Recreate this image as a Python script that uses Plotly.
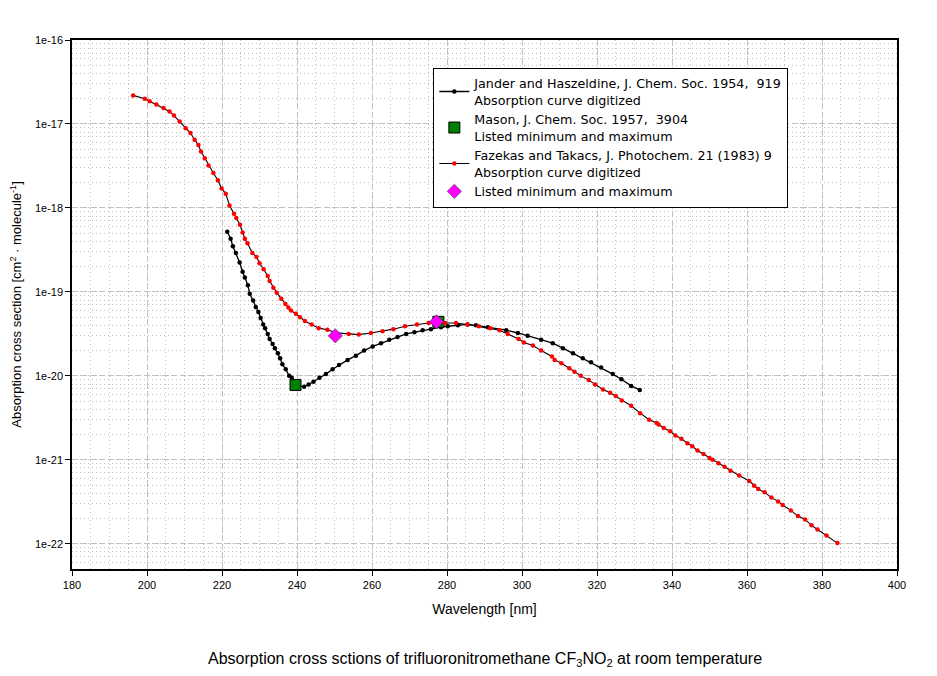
import plotly.graph_objects as go

jander_nm = [221.4, 222.3, 222.9, 223.7, 224.7, 225.5, 226.1, 226.9, 227.4, 228.3,
             229.0, 229.7, 230.3, 231.0, 231.5, 232.2, 232.7, 233.5, 234.1, 234.9,
             235.5, 236.1, 237.0, 237.9, 238.6, 239.6, 240.5, 241.9, 243.1, 244.4,
             246.0, 247.7, 249.5, 251.2, 253.5, 255.7, 257.9, 260.2, 262.4, 264.6,
             266.8, 269.1, 271.3, 273.5, 275.7, 278.4, 280.2, 282.9, 285.5, 287.7,
             290.9, 295.8, 298.9, 301.5, 305.1, 308.2, 310.9, 313.6, 316.2, 318.4,
             321.1, 324.2, 326.5, 329.1, 331.4]
jander_xs = [5.2e-19, 4.3e-19, 3.5e-19, 2.9e-19, 2.24e-19, 1.74e-19, 1.48e-19, 1.2e-19, 9.5e-20, 7.9e-20,
             6.6e-20, 5.75e-20, 4.9e-20, 4.1e-20, 3.7e-20, 3.16e-20, 2.75e-20, 2.4e-20, 2.14e-20, 1.86e-20,
             1.62e-20, 1.38e-20, 1.2e-20, 1.0e-20, 9.5e-21, 8.1e-21, 7.6e-21, 7.4e-21, 7.9e-21, 8.5e-21,
             9.5e-21, 1.05e-20, 1.2e-20, 1.35e-20, 1.55e-20, 1.74e-20, 2.0e-20, 2.24e-20, 2.45e-20, 2.7e-20,
             2.9e-20, 3.16e-20, 3.3e-20, 3.5e-20, 3.6e-20, 3.8e-20, 3.9e-20, 4.0e-20, 4.1e-20, 4.0e-20,
             3.8e-20, 3.5e-20, 3.24e-20, 3.0e-20, 2.7e-20, 2.45e-20, 2.14e-20, 1.86e-20, 1.62e-20, 1.45e-20,
             1.26e-20, 1.05e-20, 9.1e-21, 7.6e-21, 6.8e-21]

# Mason 1957, listed minimum and maximum
mason_nm = [239.6, 277.7]
mason_xs = [7.8e-21, 4.4e-20]

fazekas_nm = [196.3, 199.4, 200.7, 202.5, 204.4, 206.0, 207.2, 208.7, 210.3, 211.6,
              212.7, 213.7, 214.4, 215.4, 216.4, 217.7, 218.9, 219.9, 221.0, 222.0,
              223.2, 223.8, 224.8, 225.5, 226.1, 226.8, 228.1, 229.2, 230.0, 231.1,
              232.2, 232.7, 233.7, 234.6, 235.8, 236.9, 237.7, 238.4, 239.7, 240.8,
              242.1, 243.9, 245.8, 248.1, 250.5, 253.8, 256.5, 259.7, 262.8, 265.7,
              268.8, 272.0, 275.1, 279.5, 282.4, 285.4, 288.5, 291.5, 294.0, 296.2,
              299.1, 300.5, 302.9, 305.1, 308.0, 308.7, 310.5, 312.6, 314.0, 315.7,
              317.8, 319.5, 321.6, 323.5, 325.0, 326.6, 329.1, 331.5, 333.9, 335.9,
              336.4, 337.8, 339.5, 340.9, 342.5, 344.1, 345.4, 346.8, 348.4, 350.0,
              350.8, 352.4, 354.0, 355.6, 357.9, 360.6, 361.9, 363.0, 364.7, 366.5,
              368.3, 369.5, 371.7, 373.6, 375.5, 377.2, 378.8, 381.2, 384.1]
fazekas_xs = [2.19e-17, 2.0e-17, 1.86e-17, 1.7e-17, 1.55e-17, 1.41e-17, 1.26e-17, 1.07e-17, 8.9e-18, 7.8e-18,
              6.5e-18, 5.6e-18, 4.7e-18, 3.9e-18, 3.2e-18, 2.6e-18, 2.14e-18, 1.7e-18, 1.48e-18, 1.07e-18,
              8.5e-19, 7.6e-19, 6.3e-19, 5.1e-19, 4.3e-19, 3.8e-19, 2.9e-19, 2.6e-19, 2.19e-19, 1.86e-19,
              1.55e-19, 1.35e-19, 1.12e-19, 9.8e-20, 8.3e-20, 7.2e-20, 6.5e-20, 6.0e-20, 5.5e-20, 5.0e-20,
              4.5e-20, 4.1e-20, 3.7e-20, 3.55e-20, 3.25e-20, 3.16e-20, 3.1e-20, 3.24e-20, 3.4e-20, 3.6e-20,
              3.9e-20, 4.1e-20, 4.27e-20, 4.27e-20, 4.27e-20, 4.1e-20, 3.9e-20, 3.7e-20, 3.5e-20, 3.16e-20,
              2.75e-20, 2.5e-20, 2.3e-20, 2.0e-20, 1.7e-20, 1.55e-20, 1.41e-20, 1.23e-20, 1.12e-20, 1.0e-20,
              8.9e-21, 7.9e-21, 6.9e-21, 6.3e-21, 5.75e-21, 5.1e-21, 4.4e-21, 3.6e-21, 3.0e-21, 2.75e-21,
              2.63e-21, 2.4e-21, 2.19e-21, 1.95e-21, 1.78e-21, 1.58e-21, 1.45e-21, 1.29e-21, 1.17e-21, 1.05e-21,
              1.0e-21, 9.1e-22, 8.3e-22, 7.4e-22, 6.5e-22, 5.6e-22, 4.9e-22, 4.5e-22, 4.1e-22, 3.55e-22,
              3.2e-22, 2.9e-22, 2.5e-22, 2.14e-22, 1.95e-22, 1.66e-22, 1.48e-22, 1.26e-22, 1.02e-22]

# Fazekas and Takacs, listed minimum and maximum
faz_mm_nm = [250.2, 277.2]
faz_mm_xs = [3.0e-20, 4.4e-20]

x_ticks = list(range(180, 401, 20))
y_tickvals = [1e-22, 1e-21, 1e-20, 1e-19, 1e-18, 1e-17, 1e-16]
y_ticktext = ["1e-22", "1e-21", "1e-20", "1e-19", "1e-18", "1e-17", "1e-16"]

font = "Liberation Sans, Arial, sans-serif"
grid_col = "#c0c0c0"

fig = go.Figure()

fig.add_trace(go.Scatter(
    x=jander_nm, y=jander_xs, mode="lines+markers",
    name="Jander and Haszeldine, J. Chem. Soc. 1954,  919<br>Absorption curve digitized",
    line=dict(color="black", width=1.3),
    marker=dict(color="black", size=4.5)))

fig.add_trace(go.Scatter(
    x=mason_nm, y=mason_xs, mode="markers",
    name="Mason, J. Chem. Soc. 1957,  3904<br>Listed minimum and maximum",
    marker=dict(symbol="square", color="#008000", size=11, line=dict(color="black", width=1))))

fig.add_trace(go.Scatter(
    x=fazekas_nm, y=fazekas_xs, mode="lines+markers",
    name="Fazekas and Takacs, J. Photochem. 21 (1983) 9<br>Absorption curve digitized",
    line=dict(color="black", width=1.1),
    marker=dict(color="red", size=4.5)))

fig.add_trace(go.Scatter(
    x=faz_mm_nm, y=faz_mm_xs, mode="markers",
    name="Listed minimum and maximum",
    marker=dict(symbol="diamond", color="#ff00ff", size=11, line=dict(color="#404040", width=0.6))))

# page body adds an 8px offset, so margins are shifted to compensate
fig.update_layout(
    width=937, height=676,
    margin=dict(l=64, r=48, t=32, b=115),
    paper_bgcolor="white", plot_bgcolor="white",
    font=dict(family=font, size=12, color="black"),
    showlegend=True,
    legend=dict(
        x=0.438, y=0.948, xanchor="left", yanchor="top",
        bgcolor="white", bordercolor="black", borderwidth=1,
        font=dict(family="DejaVu Sans, Verdana, sans-serif", size=12.7), tracegroupgap=0),
    annotations=[dict(
        text="Absorption cross sctions of trifluoronitromethane CF<sub>3</sub>NO<sub>2</sub> at room temperature",
        xref="paper", yref="paper", x=0.5, y=-0.172, xanchor="center", yanchor="middle",
        showarrow=False, font=dict(size=16))],
)

fig.update_xaxes(
    range=[180, 400], tickvals=x_ticks, automargin=False,
    showline=True, linecolor="black", linewidth=1.5, mirror=True,
    ticks="outside", ticklen=5, tickcolor="black",
    tickfont=dict(size=11),
    showgrid=True, gridcolor=grid_col, griddash="6px,3px", gridwidth=1,
    minor=dict(dtick=5, showgrid=True, gridcolor=grid_col, griddash="1px,3px", gridwidth=1),
    zeroline=False,
    title=dict(text="Wavelength [nm]", font=dict(size=14), standoff=14))

fig.update_yaxes(
    type="log", range=[-22.3, -16], automargin=False,
    tickvals=y_tickvals, ticktext=y_ticktext,
    showline=True, linecolor="black", linewidth=1.5, mirror=True,
    ticks="outside", ticklen=5, tickcolor="black",
    tickfont=dict(size=11),
    showgrid=True, gridcolor=grid_col, griddash="6px,3px", gridwidth=1,
    minor=dict(dtick="D1", showgrid=True, gridcolor=grid_col, griddash="1px,3px", gridwidth=1),
    zeroline=False,
    title=dict(text="Absorption cross section [cm<sup>2</sup> · molecule<sup>-1</sup>]",
               font=dict(size=13), standoff=18))

fig.write_html("out.html")
